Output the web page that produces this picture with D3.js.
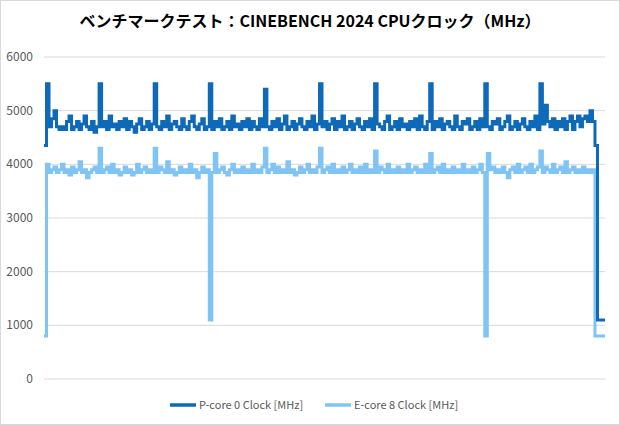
<!DOCTYPE html><html><head><meta charset="utf-8"><script src="https://cdn.jsdelivr.net/npm/d3@7"></script>
<style>body{margin:0;background:#fff}svg{font-family:"Segoe UI","Noto Sans CJK JP",sans-serif}</style></head><body><svg id="c" width="620" height="425"></svg><script>
const title="ベンチマークテスト：CINEBENCH 2024 CPUクロック（MHz）";
const seriesNames=["P-core 0 Clock [MHz]","E-core 8 Clock [MHz]"];
const yTicks=[0,1000,2000,3000,4000,5000,6000];
const pCore=[
4350,5500,4700,4850,5000,4700,4650,4700,4650,4800,4900,4650,4700,4800,4650,4750,4900,4700,4650,4800,4600,4700,
5500,4700,4800,4650,4900,4700,4750,4650,4800,4700,4850,4650,4800,4700,4600,4750,4850,4650,4700,4800,4650,4750,
5500,4700,4650,4800,4700,4900,4650,4750,4800,4700,4650,4850,4700,4650,4800,4900,4700,4650,4750,4850,4650,4700,
5500,4650,4800,4700,4850,4650,4700,4800,4650,4900,4700,4750,4650,4800,4700,4850,4650,4800,4700,4650,4850,4700,
5400,4700,4650,4800,4700,4850,4650,4750,4900,4650,4700,4800,4650,4750,4850,4700,4650,4800,4700,4900,4650,4750,
5500,4700,4800,4650,4750,4850,4650,4800,4700,4900,4650,4700,4800,4650,4750,4850,4700,4650,4800,4700,4850,4650,
5500,4750,4700,4650,4800,4900,4650,4700,4800,4650,4850,4700,4750,4650,4800,4700,4850,4650,4900,4700,4650,4800,
5500,4650,4800,4700,4850,4650,4750,4800,4700,4650,4900,4700,4650,4800,4750,4850,4650,4700,4800,4650,4850,4700,
5500,4700,4650,4800,4750,4850,4650,4700,4800,4900,4650,4700,4800,4650,4750,4850,4700,4650,4800,4700,4900,4650,
5500,4750,5100,4800,4700,4850,4650,4800,4700,4850,4650,4800,4900,4650,4800,4900,4700,4850,4900,4800,5000,4800,
4350,1100,1100,1100,1100];
const eCore=[
800,4000,3850,3900,3950,3850,3900,4000,3850,3900,3800,3950,3850,3900,4050,3850,3900,3750,3850,3900,3950,3850,
4300,3850,3900,3950,3850,4000,3850,3900,3800,3850,3950,3850,3900,3800,3850,4000,3850,3900,3950,3850,3900,3850,
4300,3850,3950,3900,3850,4050,3850,3900,3800,3850,3950,3850,3900,3850,4000,3850,3900,3750,3850,3950,3850,3900,
1100,3850,4200,3850,3900,3950,3850,3800,3900,4000,3850,3900,3850,3950,3850,3900,3850,4000,3850,3900,3850,3950,
4300,3850,3900,4000,3850,3950,3850,3900,3850,4050,3850,3900,3800,3850,3950,3850,3900,4000,3850,3900,3850,3950,
4300,3850,3900,3950,3850,4000,3850,3900,3850,3950,3850,3900,4000,3850,3900,3850,3950,3850,4000,3850,3900,3850,
4250,3850,3950,3900,3850,4000,3850,3900,3850,3950,3850,3900,3850,4000,3850,3900,3950,3850,3900,3850,4000,3850,
4200,3850,3900,3950,3850,4000,3850,3900,3850,3950,3850,3900,3850,4000,3850,3900,3850,3950,3850,3900,4000,3850,
800,4200,3900,3950,3850,3900,3850,3950,3850,3750,3900,3950,3850,4000,3850,3900,3950,3850,4000,3850,3900,3950,
4250,3850,3950,3900,3850,4000,3850,3900,3950,3850,4050,3850,3900,3950,3850,3900,3850,3950,3850,3900,3850,3900,
800,800,800,800,800];
const colors=["#0e6ab8","#7fc4f5"];
const svg=d3.select("#c");
svg.append("rect").attr("x",0.5).attr("y",0.5).attr("width",619).attr("height",424).attr("fill","#fff").attr("stroke","#d9d9d9");
svg.append("text").attr("x",310).attr("y",27).attr("text-anchor","middle").attr("font-size",16).attr("font-weight","bold").attr("fill","#000").text(title);
const x=d3.scaleLinear().domain([0,pCore.length-1]).range([44,605]);
const y=d3.scaleLinear().domain([0,6000]).range([379,57]);
const g=svg.append("g");
yTicks.forEach(t=>{g.append("line").attr("x1",44).attr("x2",605).attr("y1",y(t)).attr("y2",y(t)).attr("stroke","#d9d9d9");
g.append("text").attr("x",33).attr("y",y(t)+4).attr("text-anchor","end").attr("font-size",12).attr("fill","#595959").text(t);});
const line=d3.line().x((d,i)=>x(i)).y(d=>y(d)).curve(d3.curveStepAfter);
[[eCore,colors[1]],[pCore,colors[0]]].forEach(([s,c])=>{g.append("path").datum(s).attr("d",line).attr("fill","none").attr("stroke",c).attr("stroke-width",3);});
const lg=[[170,seriesNames[0],colors[0]],[325,seriesNames[1],colors[1]]];
lg.forEach(([lx,n,c])=>{svg.append("line").attr("x1",lx).attr("x2",lx+26).attr("y1",405).attr("y2",405).attr("stroke",c).attr("stroke-width",3.5);
svg.append("text").attr("x",lx+29).attr("y",409).attr("font-size",11).attr("fill","#595959").text(n);});
</script></body></html>
